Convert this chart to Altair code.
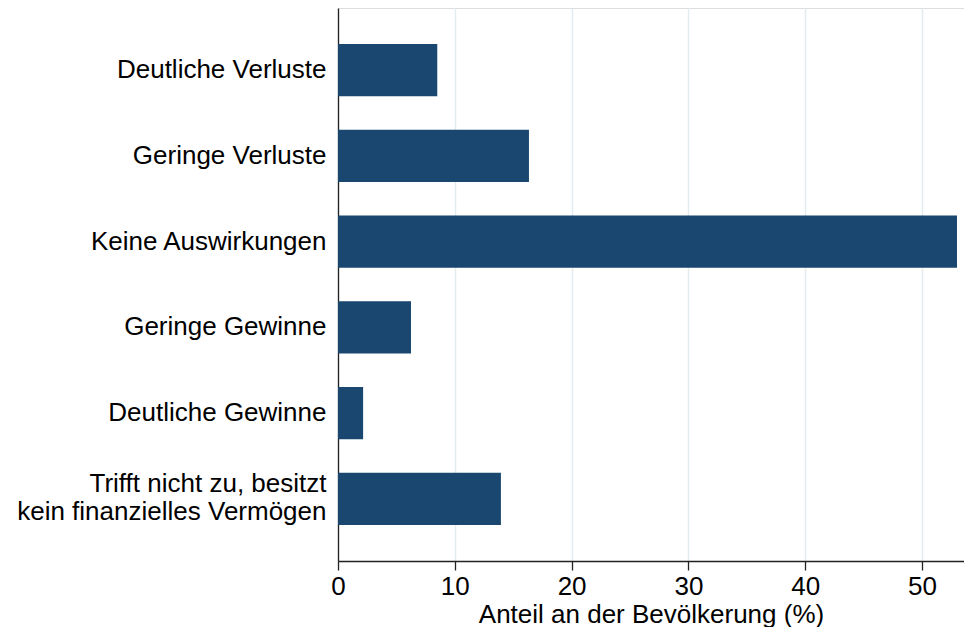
import altair as alt
import pandas as pd

categories = [
    "Deutliche Verluste",
    "Geringe Verluste",
    "Keine Auswirkungen",
    "Geringe Gewinne",
    "Deutliche Gewinne",
    "Trifft nicht zu, besitzt|kein finanzielles Vermögen",
]
values = [8.5, 16.35, 53.0, 6.25, 2.15, 13.95]
x_ticks = [0, 10, 20, 30, 40, 50]

df = pd.DataFrame({"cat": categories, "val": values})

FONT = "Liberation Sans"

chart = (
    alt.Chart(df)
    .mark_bar(color="#1a476f")
    .encode(
        x=alt.X(
            "val:Q",
            title="Anteil an der Bevölkerung (%)",
            scale=alt.Scale(domain=[0, 53.6], nice=False, zero=True),
            axis=alt.Axis(
                values=x_ticks,
                grid=True,
                gridColor="#e3ecee",
                gridWidth=1.5,
                domainColor="#222222",
                domainWidth=1.3,
                tickColor="#222222",
                tickSize=9,
                tickWidth=1.3,
                labelFont=FONT,
                labelFontSize=26,
                labelColor="#000000",
                labelPadding=3,
                labelFlush=False,
                titleFont=FONT,
                titleFontSize=26,
                titleFontWeight="normal",
                titleColor="#000000",
                titlePadding=2,
            ),
        ),
        y=alt.Y(
            "cat:N",
            sort=categories,
            title=None,
            scale=alt.Scale(paddingInner=0.39, paddingOuter=0.42),
            axis=alt.Axis(
                ticks=False,
                grid=False,
                domainColor="#222222",
                domainWidth=1.3,
                labelFont=FONT,
                labelFontSize=26,
                labelColor="#000000",
                labelPadding=12,
                labelLineHeight=28,
                labelLimit=0,
                labelOffset=alt.ExprRef(expr="indexof(datum.value, '|') >= 0 ? -15 : 0"),
                labelExpr="split(datum.label, '|')",
            ),
        ),
    )
    .properties(
        width=626,
        height=553,
        padding={"left": 8, "top": 0, "right": 0, "bottom": 0},
    )
    .configure_view(stroke=None)
    .configure(background="white")
)

chart.save("out.html", embed_options={"renderer": "svg", "actions": False})
